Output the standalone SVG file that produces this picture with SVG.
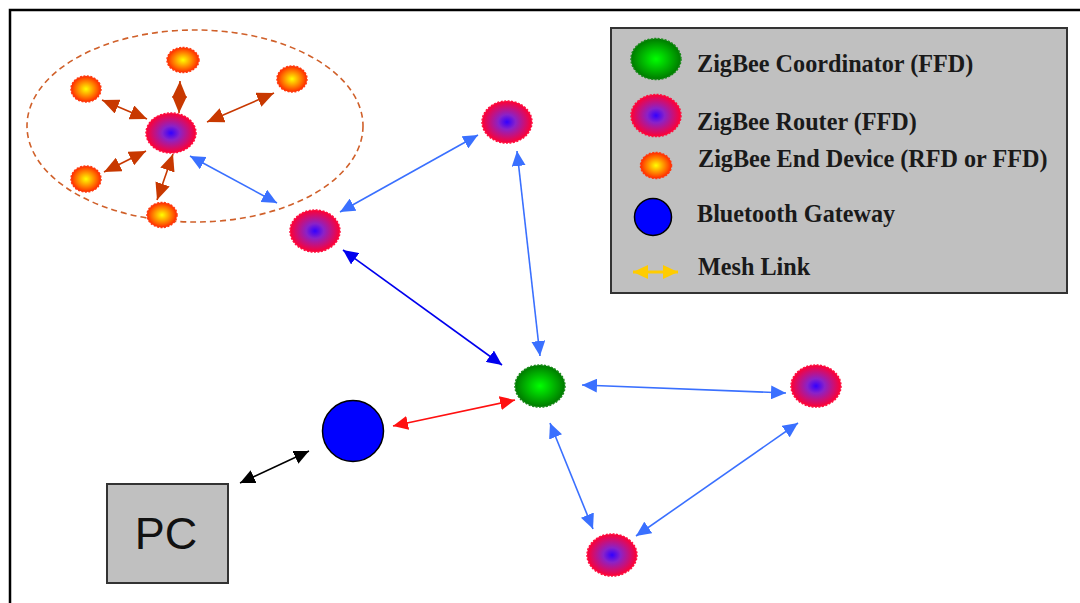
<svg xmlns="http://www.w3.org/2000/svg" width="1080" height="603" viewBox="0 0 1080 603">
<defs>
<radialGradient id="gRouter"><stop offset="0" stop-color="#3300ff"/><stop offset="0.35" stop-color="#8a22c8"/><stop offset="1" stop-color="#ff0033"/></radialGradient>
<radialGradient id="gCoord"><stop offset="0" stop-color="#00ff00"/><stop offset="1" stop-color="#007a00"/></radialGradient>
<radialGradient id="gEnd"><stop offset="0" stop-color="#ffff00"/><stop offset="1" stop-color="#ff2a00"/></radialGradient>
<marker id="mBrown" markerUnits="userSpaceOnUse" markerWidth="18" markerHeight="15" refX="17" refY="7.5" orient="auto-start-reverse" viewBox="0 0 18 15"><path d="M0,0 L17,7.5 L0,15 z" fill="#c83800"/></marker>
<marker id="mLBlue" markerUnits="userSpaceOnUse" markerWidth="16" markerHeight="14" refX="15" refY="7" orient="auto-start-reverse" viewBox="0 0 16 14"><path d="M0,0 L15,7 L0,14 z" fill="#3a70ff"/></marker>
<marker id="mDBlue" markerUnits="userSpaceOnUse" markerWidth="16" markerHeight="14" refX="15" refY="7" orient="auto-start-reverse" viewBox="0 0 16 14"><path d="M0,0 L15,7 L0,14 z" fill="#0000ee"/></marker>
<marker id="mRed" markerUnits="userSpaceOnUse" markerWidth="16" markerHeight="14" refX="15" refY="7" orient="auto-start-reverse" viewBox="0 0 16 14"><path d="M0,0 L15,7 L0,14 z" fill="#ff1010"/></marker>
<marker id="mBlack" markerUnits="userSpaceOnUse" markerWidth="16" markerHeight="14" refX="15" refY="7" orient="auto-start-reverse" viewBox="0 0 16 14"><path d="M0,0 L15,7 L0,14 z" fill="#000"/></marker>
<marker id="mYellow" markerUnits="userSpaceOnUse" markerWidth="16" markerHeight="14" refX="15" refY="7" orient="auto-start-reverse" viewBox="0 0 16 14"><path d="M0,0 L15,7 L0,14 z" fill="#ffcc00"/></marker>
</defs>
<style>
.router{fill:url(#gRouter);stroke:#ff1040;stroke-width:1.5;stroke-dasharray:2 1.5}
.coord{fill:url(#gCoord);stroke:#1a8a1a;stroke-width:1.5;stroke-dasharray:2 1.5}
.end{fill:url(#gEnd);stroke:#ff3a10;stroke-width:1.5;stroke-dasharray:2 1.5}
.bt{fill:#0000ff;stroke:#000;stroke-width:1.5}
.lbl{font-family:"Liberation Serif","Times New Roman",serif;font-weight:bold;font-size:24.2px;fill:#1a1a1a}
.c{fill:none;stroke-width:1.6}
.brown{stroke:#c83800;marker-start:url(#mBrown);marker-end:url(#mBrown)}
.lblue{stroke:#3a70ff;marker-start:url(#mLBlue);marker-end:url(#mLBlue)}
.dblue{stroke:#0000ee;marker-start:url(#mDBlue);marker-end:url(#mDBlue)}
.red{stroke:#ff1010;marker-start:url(#mRed);marker-end:url(#mRed)}
.black{stroke:#000;marker-start:url(#mBlack);marker-end:url(#mBlack)}
.yellow{stroke:#ffcc00;stroke-width:3;marker-start:url(#mYellow);marker-end:url(#mYellow)}
</style>
<rect width="1080" height="603" fill="#fff"/>
<path d="M10,603 L10,10 L1080,10" fill="none" stroke="#000" stroke-width="2.5"/>
<ellipse id="cluster" cx="195" cy="126" rx="168" ry="96" fill="none" stroke="#d0602a" stroke-width="1.6" stroke-dasharray="6 4"/>

<g id="connectors">
<line class="c brown" x1="102" y1="100" x2="147" y2="119"/>
<line class="c brown" x1="180" y1="81" x2="179" y2="113"/>
<line class="c brown" x1="207" y1="122" x2="274" y2="93"/>
<line class="c brown" x1="104" y1="172" x2="146" y2="151"/>
<line class="c brown" x1="173" y1="154" x2="157" y2="200"/>
<line class="c lblue" x1="190" y1="156" x2="277" y2="203"/>
<line class="c lblue" x1="340" y1="212" x2="478" y2="135"/>
<line class="c lblue" x1="517" y1="151" x2="540" y2="356"/>
<line class="c dblue" x1="343" y1="250" x2="502" y2="365"/>
<line class="c red" x1="393" y1="426" x2="515" y2="400"/>
<line class="c black" x1="240" y1="483" x2="309" y2="451"/>
<line class="c lblue" x1="582" y1="385" x2="786" y2="393"/>
<line class="c lblue" x1="550" y1="423" x2="593" y2="529"/>
<line class="c lblue" x1="636" y1="536" x2="798" y2="423"/>
</g>

<g id="router-cluster"><ellipse class="router" cx="171" cy="133" rx="25" ry="20"/></g>
<g id="end-top"><ellipse class="end" cx="183" cy="60" rx="16" ry="12.5"/></g>
<g id="end-upper-right"><ellipse class="end" cx="292" cy="79" rx="15" ry="13"/></g>
<g id="end-upper-left"><ellipse class="end" cx="86" cy="89" rx="15" ry="13"/></g>
<g id="end-lower-left"><ellipse class="end" cx="86" cy="179" rx="15" ry="13"/></g>
<g id="end-bottom"><ellipse class="end" cx="162" cy="215" rx="15" ry="12.5"/></g>
<g id="router-left"><ellipse class="router" cx="315" cy="231" rx="25" ry="21"/></g>
<g id="router-top"><ellipse class="router" cx="507" cy="122" rx="25" ry="21"/></g>
<g id="coordinator"><ellipse class="coord" cx="540" cy="386" rx="25" ry="21"/></g>
<g id="router-right"><ellipse class="router" cx="816" cy="386" rx="25" ry="21"/></g>
<g id="router-bottom"><ellipse class="router" cx="612" cy="555" rx="25" ry="21"/></g>
<g id="bluetooth"><circle class="bt" cx="353" cy="431" r="30.5"/></g>
<g id="pc">
<rect x="107" y="484" width="121" height="99" fill="#c0c0c0" stroke="#333" stroke-width="2"/>
<text x="166" y="549" text-anchor="middle" font-family="'Liberation Sans',Arial,sans-serif" font-size="45" fill="#111">PC</text>
</g>

<g id="legend">
<rect x="611" y="28" width="456" height="265" fill="#c0c0c0" stroke="#333" stroke-width="2"/>
<ellipse class="coord" cx="656" cy="59" rx="25" ry="20.5"/>
<text class="lbl" x="697" y="72">ZigBee Coordinator (FFD)</text>
<ellipse class="router" cx="656" cy="115.5" rx="25" ry="21"/>
<text class="lbl" x="697" y="130">ZigBee Router (FFD)</text>
<ellipse class="end" cx="656" cy="165.5" rx="15.5" ry="13"/>
<text class="lbl" x="698" y="167">ZigBee End Device (RFD or FFD)</text>
<circle class="bt" cx="653" cy="217" r="18.5"/>
<text class="lbl" x="697" y="222">Bluetooth Gateway</text>
<line class="yellow" x1="633" y1="272" x2="678" y2="272"/>
<text class="lbl" x="698" y="275">Mesh Link</text>
</g>
</svg>
